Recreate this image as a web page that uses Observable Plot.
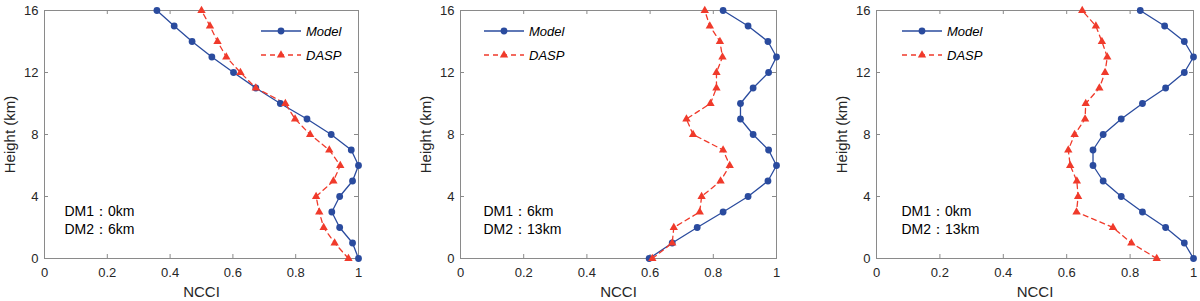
<!DOCTYPE html>
<html><head><meta charset="utf-8">
<script src="https://cdn.jsdelivr.net/npm/d3@7"></script>
<script src="https://cdn.jsdelivr.net/npm/@observablehq/plot@0.6"></script>
<style>
body{margin:0;background:#fff;}
#charts{display:flex;width:1200px;height:301px;overflow:hidden;}
#charts svg{display:block;flex:none;}
</style>
</head><body><div id="charts"></div>
<script>
// Heights (km), bottom to top
const heights = [0,1,2,3,4,5,6,7,8,9,10,11,12,13,14,15,16];
const xTicks = [0,0.2,0.4,0.6,0.8,1];
const yTicks = [0,4,8,12,16];
const seriesNames = ["Model","DASP"];

const model1 = [1.0,0.981,0.940,0.915,0.940,0.981,1.0,0.977,0.913,0.836,0.751,0.673,0.602,0.533,0.470,0.413,0.358];
const dasp1  = [0.968,0.924,0.889,0.875,0.865,0.920,0.942,0.907,0.846,0.798,0.767,0.673,0.624,0.579,0.551,0.527,0.500];
const model2 = [0.597,0.670,0.749,0.831,0.910,0.973,1.0,0.975,0.926,0.886,0.886,0.926,0.975,1.0,0.973,0.910,0.831];
const dasp2  = [0.607,0.670,0.675,0.757,0.763,0.823,0.852,0.831,0.736,0.715,0.791,0.810,0.810,0.829,0.821,0.789,0.773];
const model3 = [1.0,0.971,0.912,0.839,0.772,0.715,0.683,0.683,0.715,0.772,0.839,0.912,0.971,1.0,0.971,0.909,0.832];
const dasp3  = [0.884,0.804,0.746,0.631,0.636,0.632,0.611,0.605,0.625,0.658,0.660,0.703,0.721,0.728,0.711,0.692,0.649];

const dm1Labels = ["DM1：0km","DM1：6km","DM1：0km"];
const dm2Labels = ["DM2：6km","DM2：13km","DM2：13km"];

const BLUE = "#2a4b9e", RED = "#f03a2b", AXIS = "#8a8a8a", TEXT = "#262626";
const FONT = "Arial, 'Liberation Sans', Helvetica, sans-serif";

const panels = [
  {model: model1, dasp: dasp1, ml: 44, mr: 42, legX: 261, ann: 0, annDx: 20},
  {model: model2, dasp: dasp2, ml: 60, mr: 24, legX: 84, ann: 1, annDx: 23},
  {model: model3, dasp: dasp3, ml: 76, mr: 7, legX: 102, ann: 2, annDx: 25}
];

const W = 400, H = 301, MT = 10, MB = 43;
const container = document.getElementById("charts");

panels.forEach(p => {
  const innerW = W - p.ml - p.mr, innerH = H - MT - MB;
  const rows = heights.map((h, i) => ({h, model: p.model[i], dasp: p.dasp[i]}));
  const svg = Plot.plot({
    width: W, height: H,
    marginLeft: p.ml, marginRight: p.mr, marginTop: MT, marginBottom: MB,
    style: {fontFamily: FONT, fontSize: "13px", color: TEXT, background: "#fff", overflow: "visible"},
    x: {domain: [0, 1]},
    y: {domain: [0, 16]},
    marks: [
      Plot.frame({stroke: AXIS, strokeWidth: 1}),
      Plot.tickX(xTicks, {x: d => d, stroke: AXIS, insetTop: innerH - 4}),
      Plot.tickX(xTicks, {x: d => d, stroke: AXIS, insetBottom: innerH - 4}),
      Plot.tickY(yTicks, {y: d => d, stroke: AXIS, insetRight: innerW - 4}),
      Plot.tickY(yTicks, {y: d => d, stroke: AXIS, insetLeft: innerW - 4}),
      Plot.axisX(xTicks, {tickSize: 0, tickPadding: 9, tickFormat: d => String(d), label: null, fontSize: 13, fill: TEXT}),
      Plot.axisY(yTicks, {tickSize: 0, tickPadding: 6, tickFormat: d => String(d), label: null, fontSize: 13, fill: TEXT}),
      Plot.text(["NCCI"], {frameAnchor: "bottom", dy: 34, fontSize: 15, fill: TEXT, textAnchor: "middle", lineAnchor: "middle"}),
      Plot.text(["Height (km)"], {frameAnchor: "left", dx: -34, rotate: -90, fontSize: 15, fill: TEXT, textAnchor: "middle", lineAnchor: "middle"}),
      Plot.line(rows, {x: "model", y: "h", stroke: BLUE, strokeWidth: 1.3}),
      Plot.line(rows, {x: "dasp", y: "h", stroke: RED, strokeWidth: 1.3, strokeDasharray: "5,4"}),
      Plot.dot(rows, {x: "model", y: "h", r: 3.4, fill: BLUE, stroke: "none"}),
      Plot.dot(rows, {x: "dasp", y: "h", r: 3.1, symbol: "triangle", fill: RED, stroke: "none"}),
      Plot.text([dm1Labels[p.ann]], {frameAnchor: "bottom-left", dx: p.annDx, dy: -47, textAnchor: "start", lineAnchor: "middle", fontSize: 14, fill: "#000"}),
      Plot.text([dm2Labels[p.ann]], {frameAnchor: "bottom-left", dx: p.annDx, dy: -29, textAnchor: "start", lineAnchor: "middle", fontSize: 14, fill: "#000"})
    ]
  });

  // Legend (no box)
  const g = d3.select(svg).append("g").attr("font-family", FONT).attr("font-size", 13).attr("font-style", "italic").attr("text-anchor", "start");
  const items = [
    {name: seriesNames[0], color: BLUE, dash: null, y: 31, sym: d3.symbolCircle, size: Math.PI * 3.4 * 3.4},
    {name: seriesNames[1], color: RED, dash: "5,4", y: 55, sym: d3.symbolTriangle, size: Math.PI * 3.1 * 3.1}
  ];
  items.forEach(it => {
    g.append("line").attr("x1", p.legX).attr("x2", p.legX + 40).attr("y1", it.y).attr("y2", it.y)
      .attr("stroke", it.color).attr("stroke-width", 1.3).attr("stroke-dasharray", it.dash);
    g.append("path").attr("d", d3.symbol(it.sym, it.size)()).attr("transform", `translate(${p.legX + 20},${it.y})`).attr("fill", it.color);
    g.append("text").attr("x", p.legX + 45).attr("y", it.y).attr("dy", "0.35em").attr("fill", "#000").text(it.name);
  });

  container.appendChild(svg);
});
</script>
</body></html>
